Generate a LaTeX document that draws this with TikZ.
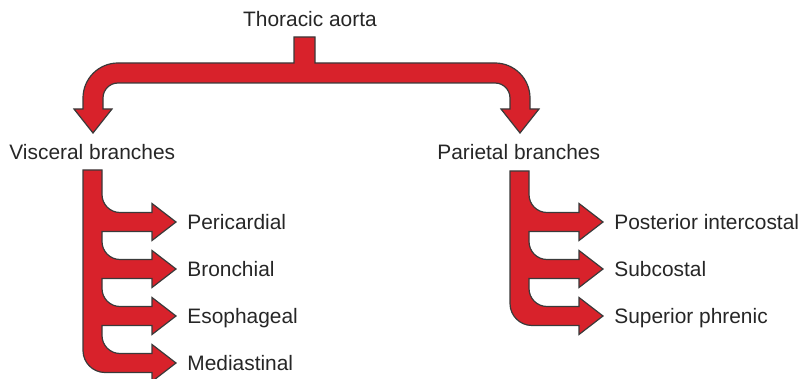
\documentclass[tikz,border=0pt]{standalone}
\usepackage{fontspec}
\setmainfont{Liberation Sans}
\usepackage{xcolor}
\usetikzlibrary{positioning}
\definecolor{AortaRed}{HTML}{D8222B}
\definecolor{AortaEdge}{HTML}{3A3A3A}

\begin{document}
\begin{tikzpicture}[x=0.5pt, y=-0.5pt,
  every node/.style={font=\fontsize{10.45}{12}\selectfont, text=black!85,
    inner xsep=0pt, inner ysep=0pt, text height=0.716em, text depth=0pt},
  fat/.style={fill=AortaRed, draw=AortaEdge, line width=0.6pt, line join=miter},
  lbl/.style={anchor=west}
]
  \useasboundingbox (0,0) rectangle (799,379);

  % Headings
  \node (aorta) at (310,19.6) {Thoracic aorta};
  \node[lbl] (visceral) at (9,152.6) {Visceral branches};
  \node[lbl] (parietal) at (437,152.6) {Parietal branches};

  % Split arrow below the aorta
  \draw[fat] (294,37) -- (315,37) -- (315,63) -- (495,63)
    arc[start angle=-90, end angle=0, radius=35] -- (530,109) -- (539,109)
    -- (520,133) -- (501,109) -- (510,109) -- (510,98)
    arc[start angle=0, end angle=-90, radius=15] -- (118,83)
    arc[start angle=-90, end angle=-180, radius=15] -- (103,109) -- (112,109)
    -- (93,133) -- (74,109) -- (83,109) -- (83,98)
    arc[start angle=180, end angle=270, radius=35] -- (294,63) -- cycle;

  % Visceral comb
  \draw[fat] (83,170) -- (102,170)
    \foreach \c in {222,269,316} {
      -- (102,\c-27.5) arc[start angle=180, end angle=90, radius=18]
      -- (152,\c-9.5) -- (152,\c-18.5) -- (176,\c) -- (152,\c+18.5)
      -- (152,\c+9.5) -- (102,\c+9.5)
    }
    -- (102,335.5) arc[start angle=180, end angle=90, radius=18]
    -- (152,353.5) -- (152,344.5) -- (176,363) -- (152,381.5)
    -- (152,372.5) -- (105,372.5)
    arc[start angle=90, end angle=180, radius=22] -- cycle;

  % Parietal comb
  \draw[fat] (510,171) -- (529,171)
    \foreach \c in {222,269} {
      -- (529,\c-27.5) arc[start angle=180, end angle=90, radius=18]
      -- (579,\c-9.5) -- (579,\c-18.5) -- (603,\c) -- (579,\c+18.5)
      -- (579,\c+9.5) -- (529,\c+9.5)
    }
    -- (529,288.5) arc[start angle=180, end angle=90, radius=18]
    -- (579,306.5) -- (579,297.5) -- (603,316) -- (579,334.5)
    -- (579,325.5) -- (532,325.5)
    arc[start angle=90, end angle=180, radius=22] -- cycle;

  % Visceral labels
  \node[lbl] (peri) at (187,222) {Pericardial};
  \node[lbl] (bron) at (187,269) {Bronchial};
  \node[lbl] (esoph) at (187,316) {Esophageal};
  \node[lbl] (medi) at (187,363) {Mediastinal};

  % Parietal labels
  \node[lbl] (postic) at (614,222) {Posterior intercostal};
  \node[lbl] (subc) at (614,269) {Subcostal};
  \node[lbl] (suph) at (614,316) {Superior phrenic};
\end{tikzpicture}
\end{document}
